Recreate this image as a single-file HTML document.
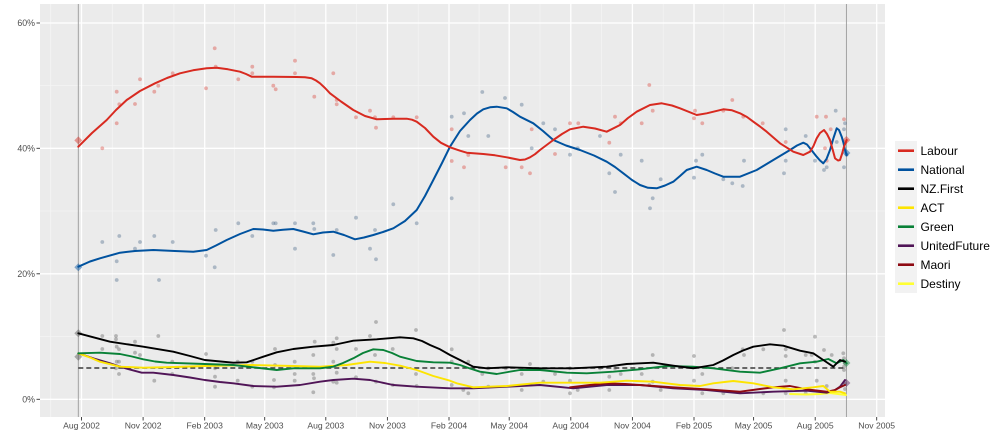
<!DOCTYPE html>
<html><head><meta charset="utf-8"><style>
html,body{margin:0;padding:0;background:#fff;}
svg{display:block;}
text{font-family:"Liberation Sans",sans-serif;}
</style></head><body>
<svg width="1000" height="444" viewBox="0 0 1000 444" xmlns="http://www.w3.org/2000/svg">
<rect x="0" y="0" width="1000" height="444" fill="#fff"/>
<!-- panel -->
<rect x="40" y="4" width="845" height="413" fill="#EBEBEB"/>
<!-- minor grid -->
<g stroke="#F5F5F5" stroke-width="0.7">
<line x1="40" y1="85.7" x2="885" y2="85.7"/><line x1="40" y1="211" x2="885" y2="211"/><line x1="40" y1="336.5" x2="885" y2="336.5"/>
<line x1="50.7" y1="4" x2="50.7" y2="417"/><line x1="112.3" y1="4" x2="112.3" y2="417"/><line x1="173.9" y1="4" x2="173.9" y2="417"/><line x1="234.5" y1="4" x2="234.5" y2="417"/><line x1="295" y1="4" x2="295" y2="417"/><line x1="356.6" y1="4" x2="356.6" y2="417"/><line x1="418.2" y1="4" x2="418.2" y2="417"/><line x1="479.1" y1="4" x2="479.1" y2="417"/><line x1="540" y1="4" x2="540" y2="417"/><line x1="601.6" y1="4" x2="601.6" y2="417"/><line x1="663.2" y1="4" x2="663.2" y2="417"/><line x1="723.8" y1="4" x2="723.8" y2="417"/><line x1="784.4" y1="4" x2="784.4" y2="417"/>
</g>
<!-- major grid -->
<g stroke="#FFFFFF" stroke-width="1.3">
<line x1="40" y1="23" x2="885" y2="23"/><line x1="40" y1="148.3" x2="885" y2="148.3"/><line x1="40" y1="273.8" x2="885" y2="273.8"/><line x1="40" y1="399.3" x2="885" y2="399.3"/>
<line x1="81.5" y1="4" x2="81.5" y2="417"/><line x1="143.1" y1="4" x2="143.1" y2="417"/><line x1="204.7" y1="4" x2="204.7" y2="417"/><line x1="264.7" y1="4" x2="264.7" y2="417"/><line x1="325.8" y1="4" x2="325.8" y2="417"/><line x1="387.4" y1="4" x2="387.4" y2="417"/><line x1="449" y1="4" x2="449" y2="417"/><line x1="509.2" y1="4" x2="509.2" y2="417"/><line x1="570.8" y1="4" x2="570.8" y2="417"/><line x1="632.4" y1="4" x2="632.4" y2="417"/><line x1="694" y1="4" x2="694" y2="417"/><line x1="753.6" y1="4" x2="753.6" y2="417"/><line x1="815.2" y1="4" x2="815.2" y2="417"/><line x1="876.7" y1="4" x2="876.7" y2="417"/>
</g>
<!-- election lines -->
<line x1="78.3" y1="4" x2="78.3" y2="417" stroke="#9a9a9a" stroke-width="0.9"/>
<line x1="846.4" y1="4" x2="846.4" y2="417" stroke="#9a9a9a" stroke-width="0.9"/>

<!-- Labour points -->
<g fill="#D82A20" fill-opacity="0.35">
<circle cx="102.3" cy="148.3" r="1.9"/><circle cx="116.7" cy="91.7" r="1.9"/><circle cx="116.7" cy="123.3" r="1.9"/><circle cx="119.3" cy="104.3" r="1.9"/><circle cx="135" cy="104" r="1.9"/><circle cx="140" cy="79.3" r="1.9"/><circle cx="154.3" cy="91.7" r="1.9"/><circle cx="158.3" cy="85.7" r="1.9"/><circle cx="172.7" cy="73.3" r="1.9"/><circle cx="206" cy="88.3" r="1.9"/><circle cx="214.7" cy="48.3" r="1.9"/><circle cx="215.7" cy="66.7" r="1.9"/><circle cx="238.3" cy="79.3" r="1.9"/><circle cx="252.3" cy="66.7" r="1.9"/><circle cx="252.3" cy="73.3" r="1.9"/><circle cx="273.3" cy="85.7" r="1.9"/><circle cx="275.7" cy="89.3" r="1.9"/><circle cx="295" cy="60.7" r="1.9"/><circle cx="295" cy="73.3" r="1.9"/><circle cx="314.3" cy="96.7" r="1.9"/><circle cx="333.3" cy="73.3" r="1.9"/><circle cx="336.7" cy="100" r="1.9"/><circle cx="336.7" cy="104.3" r="1.9"/><circle cx="356" cy="117.3" r="1.9"/><circle cx="370" cy="110.7" r="1.9"/><circle cx="375" cy="117.3" r="1.9"/><circle cx="376" cy="127.7" r="1.9"/><circle cx="393.3" cy="117.3" r="1.9"/><circle cx="416.7" cy="117.3" r="1.9"/><circle cx="451.7" cy="129.3" r="1.9"/><circle cx="451.7" cy="161" r="1.9"/>
<circle cx="464" cy="167.3" r="1.9"/><circle cx="468.3" cy="155" r="1.9"/><circle cx="505.7" cy="167.3" r="1.9"/><circle cx="521.7" cy="167.3" r="1.9"/><circle cx="530" cy="173.3" r="1.9"/><circle cx="531.7" cy="129.3" r="1.9"/><circle cx="555" cy="154" r="1.9"/><circle cx="570" cy="123.3" r="1.9"/><circle cx="578.3" cy="123.3" r="1.9"/><circle cx="609.3" cy="142.7" r="1.9"/><circle cx="615" cy="116.7" r="1.9"/><circle cx="620.7" cy="123.3" r="1.9"/><circle cx="641.7" cy="123.3" r="1.9"/><circle cx="649.3" cy="85" r="1.9"/><circle cx="652.7" cy="110.7" r="1.9"/><circle cx="695" cy="110.7" r="1.9"/><circle cx="694" cy="118.3" r="1.9"/><circle cx="702.3" cy="123.3" r="1.9"/><circle cx="723.3" cy="110.7" r="1.9"/><circle cx="732.3" cy="100" r="1.9"/><circle cx="743.3" cy="116.7" r="1.9"/><circle cx="762.7" cy="123.3" r="1.9"/><circle cx="785.7" cy="142" r="1.9"/><circle cx="816.7" cy="116.7" r="1.9"/><circle cx="826" cy="116.7" r="1.9"/><circle cx="830.7" cy="129.3" r="1.9"/><circle cx="825" cy="148.3" r="1.9"/><circle cx="844" cy="119.3" r="1.9"/><circle cx="845" cy="142" r="1.9"/><circle cx="826.7" cy="160.7" r="1.9"/>
</g>
<!-- National / grey points upper -->
<g fill="#4a6a8a" fill-opacity="0.4">
<circle cx="102.3" cy="242" r="1.9"/><circle cx="116.7" cy="261.3" r="1.9"/><circle cx="116.7" cy="280" r="1.9"/><circle cx="119.3" cy="236" r="1.9"/><circle cx="135" cy="248.7" r="1.9"/><circle cx="140" cy="242" r="1.9"/><circle cx="154.3" cy="236" r="1.9"/><circle cx="159" cy="280" r="1.9"/><circle cx="172.7" cy="242" r="1.9"/><circle cx="206" cy="255.7" r="1.9"/><circle cx="214.7" cy="267.3" r="1.9"/><circle cx="215.7" cy="230" r="1.9"/><circle cx="238.3" cy="223.3" r="1.9"/><circle cx="252.3" cy="236" r="1.9"/><circle cx="273.3" cy="223.3" r="1.9"/><circle cx="275.7" cy="223.3" r="1.9"/><circle cx="295" cy="223.3" r="1.9"/><circle cx="295" cy="248.7" r="1.9"/><circle cx="313.3" cy="223.3" r="1.9"/><circle cx="314.3" cy="229" r="1.9"/><circle cx="333.3" cy="255" r="1.9"/><circle cx="336.7" cy="230" r="1.9"/><circle cx="356" cy="217.7" r="1.9"/><circle cx="370" cy="248.7" r="1.9"/><circle cx="375" cy="230" r="1.9"/><circle cx="376" cy="259.3" r="1.9"/><circle cx="393.3" cy="204.3" r="1.9"/><circle cx="416.7" cy="223.3" r="1.9"/><circle cx="451.7" cy="198.3" r="1.9"/><circle cx="451.7" cy="116.7" r="1.9"/>
<circle cx="464" cy="113.3" r="1.9"/><circle cx="468.3" cy="136" r="1.9"/><circle cx="482.3" cy="92" r="1.9"/><circle cx="488.3" cy="136" r="1.9"/><circle cx="505" cy="98" r="1.9"/><circle cx="521.7" cy="104.7" r="1.9"/><circle cx="531.7" cy="148.3" r="1.9"/><circle cx="543.3" cy="123.3" r="1.9"/><circle cx="555" cy="129.3" r="1.9"/><circle cx="570" cy="154.7" r="1.9"/><circle cx="577.7" cy="148.3" r="1.9"/><circle cx="600" cy="136" r="1.9"/><circle cx="609.3" cy="173.3" r="1.9"/><circle cx="615" cy="192" r="1.9"/><circle cx="620.7" cy="154.7" r="1.9"/><circle cx="641.7" cy="160.7" r="1.9"/><circle cx="650" cy="208.3" r="1.9"/><circle cx="652.7" cy="198.3" r="1.9"/><circle cx="660.7" cy="179.3" r="1.9"/><circle cx="694" cy="177.7" r="1.9"/><circle cx="696" cy="160.7" r="1.9"/><circle cx="702.3" cy="154.7" r="1.9"/><circle cx="723.3" cy="179.3" r="1.9"/><circle cx="732.3" cy="183.3" r="1.9"/><circle cx="742.7" cy="186" r="1.9"/><circle cx="744" cy="160.7" r="1.9"/><circle cx="784" cy="173.3" r="1.9"/><circle cx="785.7" cy="160.7" r="1.9"/><circle cx="785.7" cy="129.3" r="1.9"/><circle cx="805.7" cy="136" r="1.9"/><circle cx="815" cy="160.7" r="1.9"/><circle cx="824" cy="170" r="1.9"/><circle cx="826.7" cy="167.3" r="1.9"/><circle cx="835.7" cy="110.7" r="1.9"/><circle cx="836.7" cy="142" r="1.9"/><circle cx="844" cy="129.3" r="1.9"/><circle cx="845" cy="123.3" r="1.9"/><circle cx="844" cy="167.3" r="1.9"/><circle cx="846.7" cy="154.7" r="1.9"/>
</g>
<!-- lower grey points -->
<g fill="#6f6f6f" fill-opacity="0.45">
<circle cx="102.3" cy="336" r="1.9"/><circle cx="102.3" cy="349" r="1.9"/><circle cx="116" cy="336" r="1.9"/><circle cx="116" cy="339.3" r="1.9"/><circle cx="116.7" cy="346.7" r="1.9"/><circle cx="119" cy="349.3" r="1.9"/><circle cx="116.7" cy="361.7" r="1.9"/><circle cx="119" cy="361.7" r="1.9"/><circle cx="119" cy="374" r="1.9"/><circle cx="116" cy="368.3" r="1.9"/><circle cx="135" cy="341.7" r="1.9"/><circle cx="135" cy="352.7" r="1.9"/><circle cx="140" cy="355" r="1.9"/><circle cx="154.3" cy="380.7" r="1.9"/><circle cx="158.3" cy="336" r="1.9"/><circle cx="172.3" cy="361.7" r="1.9"/><circle cx="172.3" cy="374" r="1.9"/><circle cx="206" cy="354" r="1.9"/><circle cx="215" cy="376.7" r="1.9"/><circle cx="215" cy="386.7" r="1.9"/><circle cx="215" cy="368.3" r="1.9"/><circle cx="237.7" cy="361.7" r="1.9"/><circle cx="237.7" cy="380.7" r="1.9"/><circle cx="252.3" cy="361.7" r="1.9"/><circle cx="252.3" cy="386.7" r="1.9"/><circle cx="274" cy="380" r="1.9"/><circle cx="274" cy="387.3" r="1.9"/><circle cx="275" cy="349" r="1.9"/><circle cx="275" cy="365" r="1.9"/><circle cx="294.7" cy="361.7" r="1.9"/><circle cx="294.7" cy="374" r="1.9"/><circle cx="294.7" cy="380.7" r="1.9"/><circle cx="313.3" cy="355" r="1.9"/><circle cx="313.3" cy="374" r="1.9"/><circle cx="314" cy="378.3" r="1.9"/><circle cx="313.3" cy="392.3" r="1.9"/><circle cx="314.7" cy="341.7" r="1.9"/><circle cx="333.3" cy="342.7" r="1.9"/><circle cx="333.3" cy="361.7" r="1.9"/><circle cx="333.3" cy="381.7" r="1.9"/><circle cx="336.7" cy="338.3" r="1.9"/><circle cx="336.7" cy="349" r="1.9"/><circle cx="336.7" cy="372.7" r="1.9"/><circle cx="336.7" cy="382.7" r="1.9"/><circle cx="356" cy="349" r="1.9"/><circle cx="356" cy="377.3" r="1.9"/><circle cx="370" cy="336" r="1.9"/><circle cx="376" cy="322" r="1.9"/><circle cx="375" cy="355" r="1.9"/><circle cx="376" cy="381.7" r="1.9"/><circle cx="392.7" cy="349" r="1.9"/><circle cx="392.7" cy="385" r="1.9"/><circle cx="416" cy="330" r="1.9"/><circle cx="416" cy="374" r="1.9"/><circle cx="416.7" cy="386" r="1.9"/>
<circle cx="451.7" cy="349.3" r="1.9"/><circle cx="451.7" cy="361.7" r="1.9"/><circle cx="451.7" cy="385" r="1.9"/><circle cx="463.3" cy="390" r="1.9"/><circle cx="468.3" cy="361.7" r="1.9"/><circle cx="468.3" cy="393.3" r="1.9"/><circle cx="482.3" cy="374" r="1.9"/><circle cx="488.3" cy="368.3" r="1.9"/><circle cx="488.3" cy="386.7" r="1.9"/><circle cx="505.7" cy="368.3" r="1.9"/><circle cx="521.7" cy="374" r="1.9"/><circle cx="521.7" cy="390" r="1.9"/><circle cx="530" cy="364" r="1.9"/><circle cx="543.3" cy="381.7" r="1.9"/><circle cx="555" cy="374" r="1.9"/><circle cx="570" cy="368.3" r="1.9"/><circle cx="570" cy="380.7" r="1.9"/><circle cx="570" cy="393.3" r="1.9"/><circle cx="577.7" cy="390" r="1.9"/><circle cx="600" cy="368.3" r="1.9"/><circle cx="609.3" cy="376.7" r="1.9"/><circle cx="609.3" cy="390" r="1.9"/><circle cx="615" cy="368.3" r="1.9"/><circle cx="620.7" cy="374" r="1.9"/><circle cx="641.7" cy="374" r="1.9"/><circle cx="649.3" cy="385" r="1.9"/><circle cx="652.7" cy="355" r="1.9"/><circle cx="652.7" cy="381.7" r="1.9"/><circle cx="660.7" cy="390" r="1.9"/><circle cx="694" cy="356" r="1.9"/><circle cx="694" cy="380.7" r="1.9"/><circle cx="702.3" cy="374" r="1.9"/><circle cx="702.3" cy="393.3" r="1.9"/><circle cx="723.3" cy="393.3" r="1.9"/><circle cx="732.3" cy="368.3" r="1.9"/><circle cx="742.7" cy="349.3" r="1.9"/><circle cx="744" cy="355" r="1.9"/><circle cx="763.3" cy="349.3" r="1.9"/><circle cx="763.3" cy="393.3" r="1.9"/><circle cx="784" cy="330" r="1.9"/><circle cx="785.7" cy="349.3" r="1.9"/><circle cx="785.7" cy="356" r="1.9"/><circle cx="785.7" cy="380.7" r="1.9"/><circle cx="785.7" cy="393.3" r="1.9"/><circle cx="805.7" cy="355" r="1.9"/><circle cx="805.7" cy="393.3" r="1.9"/><circle cx="811.7" cy="355" r="1.9"/><circle cx="815" cy="336.7" r="1.9"/><circle cx="815" cy="361.7" r="1.9"/><circle cx="816.7" cy="380.7" r="1.9"/><circle cx="824" cy="350" r="1.9"/><circle cx="826.7" cy="386" r="1.9"/><circle cx="831.7" cy="355" r="1.9"/><circle cx="843.3" cy="353.3" r="1.9"/><circle cx="844" cy="358.3" r="1.9"/><circle cx="844" cy="366.7" r="1.9"/><circle cx="844" cy="370" r="1.9"/><circle cx="845" cy="363.3" r="1.9"/><circle cx="845" cy="384" r="1.9"/><circle cx="845" cy="389" r="1.9"/>
</g>
<!-- election result diamonds -->
<g fill-opacity="0.45">
<path d="M78.3 136.4 L82.3 140.4 L78.3 144.4 L74.3 140.4Z" fill="#D82A20"/>
<path d="M78.3 263.3 L82.3 267.3 L78.3 271.3 L74.3 267.3Z" fill="#00529F"/>
<path d="M78.3 329.3 L82.3 333.3 L78.3 337.3 L74.3 333.3Z" fill="#555"/>
<path d="M78.3 352.7 L82.3 356.7 L78.3 360.7 L74.3 356.7Z" fill="#555"/>
<path d="M846.4 136 L850.4 140 L846.4 144 L842.4 140Z" fill="#D82A20"/>
<path d="M846.4 149 L850.4 153 L846.4 157 L842.4 153Z" fill="#00529F"/>
<path d="M846.4 359 L850.4 363 L846.4 367 L842.4 363Z" fill="#098137"/>
<path d="M846.4 379 L850.4 383 L846.4 387 L842.4 383Z" fill="#501557"/>
</g>

<!-- dashed 5% line -->
<line x1="78.3" y1="368" x2="846.4" y2="368" stroke="#3a3a3a" stroke-width="1.5" stroke-dasharray="5 3"/>

<g fill="none" stroke-width="1.9" stroke-linejoin="round" stroke-linecap="round">
<!-- Destiny -->
<polyline stroke="#FFFF33" points="790,394 806,394.5 820,394 830,393 838,394 846,395"/>
<!-- UnitedFuture -->
<polyline stroke="#501557" points="78.3,353.3 94,358.5 110,363.3 126,368.5 141.7,372.7 153.3,372.7 173.3,375 190,377.5 204.7,380 220,382 233.3,383.3 253.3,386 276.7,386.7 300,385 320,381.7 333.3,380 353.3,378.7 370,380 393.3,385 416.7,386.7 450,388.3 473.3,388.3 506.7,386.7 540,385 573.3,388.3 606.7,385 640,385 673.3,388.3 706.7,390 740,393.3 773.3,391.7 806.7,390.7 826.7,392.7 835,390 840,386.7 845,380"/>
<!-- Maori -->
<polyline stroke="#8E0A12" points="570,387.3 590,385 606.7,383.3 625,384 640,385 673.3,387.3 706.7,389.3 740,391.7 760,389 773.3,387.3 790,386 806.7,389.3 826.7,391.7 835,390 840,387.3 845,385"/>
<!-- ACT -->
<polyline stroke="#FDE401" points="78.3,353.3 90,357.5 100,361.7 120,366.7 143.3,367.7 175,367 204.7,366 253.3,365 293.3,366 320,366.7 346.7,365 370,361.7 385,363 400,365.7 416.7,370 433.3,376 450,380.7 456.7,383.3 473.3,387.3 506.7,386 540,382.7 573.3,382.7 600,382.7 626.7,380.7 653.3,381.7 680,385 700,386 713.3,383.3 733.3,381 753.3,383.3 773.3,387.3 793.3,389.3 813.3,387.3 823.3,386 830,391.7 840,391.7 845,393.3"/>
<!-- Green -->
<polyline stroke="#098137" points="78.3,353.3 100,352.7 120,354 132,356.5 143.3,359.3 155,361.5 166.7,362.7 204.7,364 233.3,365 253.3,367.3 276.7,370 293.3,368.3 320,368.3 333.3,366.7 343,363 353.3,358.3 363,353 373.3,349.3 383.3,350 392,353 400,356.7 416.7,361 433.3,362.3 450,362.7 460,365 470,368.5 480,371.7 496.7,374 508,372 520,370 540,370 566.7,372.7 586.7,373.3 613.3,371.7 640,369.3 666.7,366 693.3,366.7 713.3,368.3 740,371.7 760,372.7 780,368.3 800,363.3 816.7,361.7 828.3,359 836.7,363.3 843.3,360 846.7,363.3"/>
<!-- NZ First -->
<polyline stroke="#000000" points="78.3,333.3 110,341.7 143.3,346.7 173.3,351.7 190,356 204.7,360 233.3,362.7 246.7,362.3 255,359.5 263.3,356.7 276.7,352.3 293.3,349 313.3,346.7 333.3,345 345,342.5 353.3,340.7 376.7,339.3 400,337.3 413.3,338.3 422,341 430,345 440,349.3 450,355 460,360 473.3,366.7 486.7,368.3 506.7,367.3 540,368.3 573.3,368.3 606.7,366.7 626.7,364 653.3,362.7 673.3,365.7 693.3,368.3 713.3,365 723,360.5 733.3,355 743,350.5 753.3,346.7 770,344.3 783.3,345.7 800,350.7 813.3,353.3 823.3,360 833.3,366.7 840,360 845,361.7"/>
<!-- National -->
<polyline stroke="#00529F" stroke-width="2" points="78.3,266.7 90,261.5 100,258.3 120,252.7 135,251 153.3,250 175,251 193.3,251.7 206.7,250 216,245.5 226.7,240 240,234 253.3,229 263,229.5 273.3,230.7 283,229.8 293.3,229 303,231.5 313.3,234.3 323,232.5 333.3,231.7 344,235 355,239.3 364,237.5 373.3,235 383,232 393.3,228.3 405,221 416.7,210 425,196 433.3,180 442,163 450,146.7 460,131 470,120 477,113.5 483.3,109.3 490,107.3 496.7,106.7 506.7,108.3 513,112 520,116.7 533.3,123.3 543,131 553.3,140 566,145.5 580,150 594,155.5 606.7,161.7 615,167 623.3,173.3 632,180 640,185 648,187.8 656.7,188.3 665,185.5 673.3,181.7 680,176 686.7,170 696.7,166.7 706.7,170 715,173.5 723.3,176.7 740,176.7 756.7,170 773.3,160 790,150 797,145.5 803.3,142.7 807,144.5 810,148.3 816.7,156.7 820,160.5 823.3,163.3 826.5,159 830,150 833.5,138 836.7,128.3 839,130 841.7,136.7 843.5,143 845,150 846.7,155"/>
<!-- Labour -->
<polyline stroke="#D82A20" stroke-width="2" points="78.3,146.7 92,133 106.7,120 116,110 126.7,100 140,91 155,83.3 167,78 180,73.3 193,70.3 206.7,68.3 216.7,67.7 228,69.3 240,71.7 246,74 251.7,76.7 262,76.7 273.3,76.7 296.7,77 305,77.3 311.7,78.3 316,80.5 320,83.3 325,88 330,93.3 341,101.5 353.3,110 365,116 376.7,119.3 385,119 393.3,118.7 406.7,118.7 412,119.7 416.7,121.7 425,128 433.3,136.7 441,142.8 450,147.3 460,150.7 466.7,152.7 483.3,154 495,155.3 506.7,157.3 520,160 525,159.5 530,157.3 535,154.2 540,150 553.3,140 562,134 570,129.3 583.3,126.7 595,128.5 606.7,131.7 620,125 628,118 636.7,111.7 650,105 661.7,103.3 672,105.5 680,108.3 696.7,115 706.7,113.3 723.3,109.3 732,110.3 740,113.3 747,117 753.3,121.7 760,126.5 766.7,131.7 780,143.3 793.3,151.7 803.3,155 810,151.7 813.5,146 816.7,138.3 820,133 824,130 827,134 830,140 832.5,149 835,158.3 838,160.5 840,160 842,154 844,146.7 846.7,140"/>
</g>

<!-- y axis ticks and labels -->
<g stroke="#333" stroke-width="0.9">
<line x1="36.5" y1="23" x2="40" y2="23"/><line x1="36.5" y1="148.3" x2="40" y2="148.3"/><line x1="36.5" y1="273.8" x2="40" y2="273.8"/><line x1="36.5" y1="399.3" x2="40" y2="399.3"/>
<line x1="81.5" y1="417" x2="81.5" y2="420.5"/><line x1="143.1" y1="417" x2="143.1" y2="420.5"/><line x1="204.7" y1="417" x2="204.7" y2="420.5"/><line x1="264.7" y1="417" x2="264.7" y2="420.5"/><line x1="325.8" y1="417" x2="325.8" y2="420.5"/><line x1="387.4" y1="417" x2="387.4" y2="420.5"/><line x1="449" y1="417" x2="449" y2="420.5"/><line x1="509.2" y1="417" x2="509.2" y2="420.5"/><line x1="570.8" y1="417" x2="570.8" y2="420.5"/><line x1="632.4" y1="417" x2="632.4" y2="420.5"/><line x1="694" y1="417" x2="694" y2="420.5"/><line x1="753.6" y1="417" x2="753.6" y2="420.5"/><line x1="815.2" y1="417" x2="815.2" y2="420.5"/><line x1="876.7" y1="417" x2="876.7" y2="420.5"/>
</g>
<g fill="#4D4D4D" font-size="8.8" text-anchor="end">
<text x="35" y="26.2">60%</text><text x="35" y="151.5">40%</text><text x="35" y="277">20%</text><text x="35" y="402.5">0%</text>
</g>
<g fill="#4D4D4D" font-size="8.6" text-anchor="middle">
<text x="81.5" y="428.5">Aug 2002</text><text x="143.1" y="428.5">Nov 2002</text><text x="204.7" y="428.5">Feb 2003</text><text x="264.7" y="428.5">May 2003</text><text x="325.8" y="428.5">Aug 2003</text><text x="387.4" y="428.5">Nov 2003</text><text x="449" y="428.5">Feb 2004</text><text x="509.2" y="428.5">May 2004</text><text x="570.8" y="428.5">Aug 2004</text><text x="632.4" y="428.5">Nov 2004</text><text x="694" y="428.5">Feb 2005</text><text x="753.6" y="428.5">May 2005</text><text x="815.2" y="428.5">Aug 2005</text><text x="876.7" y="428.5">Nov 2005</text>
</g>

<!-- legend -->
<rect x="895" y="141" width="22" height="152" fill="#F2F2F2"/>
<g stroke-width="2.6">
<line x1="898" y1="150.7" x2="914" y2="150.7" stroke="#D82A20"/>
<line x1="898" y1="169.7" x2="914" y2="169.7" stroke="#00529F"/>
<line x1="898" y1="188.7" x2="914" y2="188.7" stroke="#000000"/>
<line x1="898" y1="207.7" x2="914" y2="207.7" stroke="#FDE401"/>
<line x1="898" y1="226.7" x2="914" y2="226.7" stroke="#098137"/>
<line x1="898" y1="245.7" x2="914" y2="245.7" stroke="#501557"/>
<line x1="898" y1="264.7" x2="914" y2="264.7" stroke="#8E0A12"/>
<line x1="898" y1="283.7" x2="914" y2="283.7" stroke="#FFFF33"/>
</g>
<g fill="#000" font-size="12">
<text x="920.5" y="155">Labour</text>
<text x="920.5" y="174">National</text>
<text x="920.5" y="193">NZ.First</text>
<text x="920.5" y="212">ACT</text>
<text x="920.5" y="231">Green</text>
<text x="920.5" y="250">UnitedFuture</text>
<text x="920.5" y="269">Maori</text>
<text x="920.5" y="288">Destiny</text>
</g>
</svg>
</body></html>
